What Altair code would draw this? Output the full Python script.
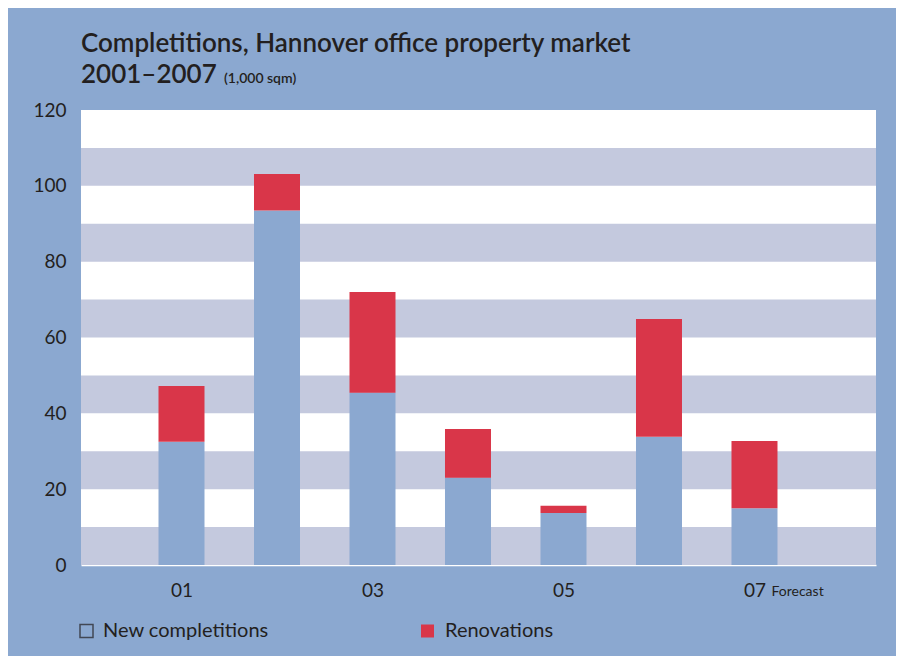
import altair as alt
import pandas as pd

years = [2001, 2002, 2003, 2004, 2005, 2006, 2007]
new_completions = [32.5, 93.5, 45.4, 23.0, 13.7, 33.8, 15.0]
renovations = [14.7, 9.6, 26.6, 12.9, 1.9, 31.1, 17.7]
series = ["New completitions", "Renovations"]
band_starts = [0, 20, 40, 60, 80, 100]
tick_years = [2001, 2003, 2005, 2007]
title_line1 = "Completitions, Hannover office property market"
title_line2 = "2001–2007"
unit_text = "(1,000 sqm)"

BG = "#8ba8d0"
BLUE = "#8ba8d0"
RED = "#d93649"
GREY = "#c4c9de"
TXT = "#231f20"
FONT = "Lato"

W, H = 795, 455

rows = []
for y, n, r in zip(years, new_completions, renovations):
    rows.append({"year": y, "series": series[0], "value": n, "ord": 0})
    rows.append({"year": y, "series": series[1], "value": r, "ord": 1})
df = pd.DataFrame(rows)
bands = pd.DataFrame({"y0": band_starts, "y1": [b + 10 for b in band_starts]})

xscale = alt.Scale(domain=[2000, 2008.22], nice=False, zero=False)
yscale = alt.Scale(domain=[0, 120], nice=False)

band_layer = alt.Chart(bands).mark_rect(color=GREY).encode(
    x=alt.value(0), x2=alt.value(W),
    y=alt.Y("y0:Q", scale=yscale,
            axis=alt.Axis(values=[0, 20, 40, 60, 80, 100, 120], title=None,
                          domain=False, ticks=False, grid=False,
                          labelFontSize=19, labelColor=TXT, labelFont=FONT,
                          labelPadding=15)),
    y2="y1:Q",
)

bars = alt.Chart(df).mark_bar(size=46).encode(
    x=alt.X("year:Q", scale=xscale,
            axis=alt.Axis(values=tick_years, title=None, domain=True,
                          domainColor="white", domainWidth=1.5,
                          ticks=False, grid=False,
                          labelExpr="substring(toString(datum.value), 2, 4)",
                          labelFontSize=19, labelColor=TXT, labelFont=FONT,
                          labelPadding=16)),
    y=alt.Y("value:Q", stack="zero", scale=yscale),
    color=alt.Color("series:N", scale=alt.Scale(domain=series, range=[BLUE, RED]),
                    legend=None),
    order=alt.Order("ord:Q", sort="ascending"),
)

forecast = alt.Chart(pd.DataFrame({"t": ["Forecast"]})).mark_text(
    align="left", baseline="alphabetic", fontSize=14, font=FONT, color=TXT, dx=17
).encode(x=alt.datum(2007, scale=xscale), y=alt.value(H + 31), text="t:N")

title1 = alt.Chart(pd.DataFrame({"t": [title_line1]})).mark_text(
    align="left", baseline="alphabetic", fontSize=26, fontWeight=600, font=FONT, color=TXT
).encode(x=alt.value(0), y=alt.value(-58), text="t:N")

title2 = alt.Chart(pd.DataFrame({"t": [title_line2]})).mark_text(
    align="left", baseline="alphabetic", fontSize=26, fontWeight=600, font=FONT, color=TXT
).encode(x=alt.value(0), y=alt.value(-27), text="t:N")

unit = alt.Chart(pd.DataFrame({"t": [unit_text]})).mark_text(
    align="left", baseline="alphabetic", fontSize=14, fontWeight=600, font=FONT, color=TXT
).encode(x=alt.value(143), y=alt.value(-27), text="t:N")

LY = H + 66
leg_sq1 = alt.Chart(pd.DataFrame({"t": [series[0]]})).mark_square(
    size=169, filled=False, stroke=TXT, strokeWidth=1.5
).encode(x=alt.value(5.5), y=alt.value(LY))
leg_sq2 = alt.Chart(pd.DataFrame({"t": [series[1]]})).mark_square(
    size=169, filled=True, color=RED, opacity=1
).encode(x=alt.value(346.5), y=alt.value(LY))
leg_t1 = alt.Chart(pd.DataFrame({"t": [series[0]]})).mark_text(
    align="left", baseline="middle", fontSize=20, font=FONT, color=TXT
).encode(x=alt.value(22), y=alt.value(LY), text="t:N")
leg_t2 = alt.Chart(pd.DataFrame({"t": [series[1]]})).mark_text(
    align="left", baseline="middle", fontSize=20, font=FONT, color=TXT
).encode(x=alt.value(364), y=alt.value(LY), text="t:N")

chart = alt.layer(
    band_layer, bars, forecast, title1, title2, unit, leg_sq1, leg_sq2, leg_t1, leg_t2
).properties(
    width=W, height=H,
    background=BG,
    autosize=alt.AutoSizeParams(type="none"),
    padding={"left": 73, "top": 102, "right": 20, "bottom": 91},
).configure_view(
    fill="white", stroke=None
)

chart.save("out.html", embed_options={"renderer": "svg", "actions": False})
